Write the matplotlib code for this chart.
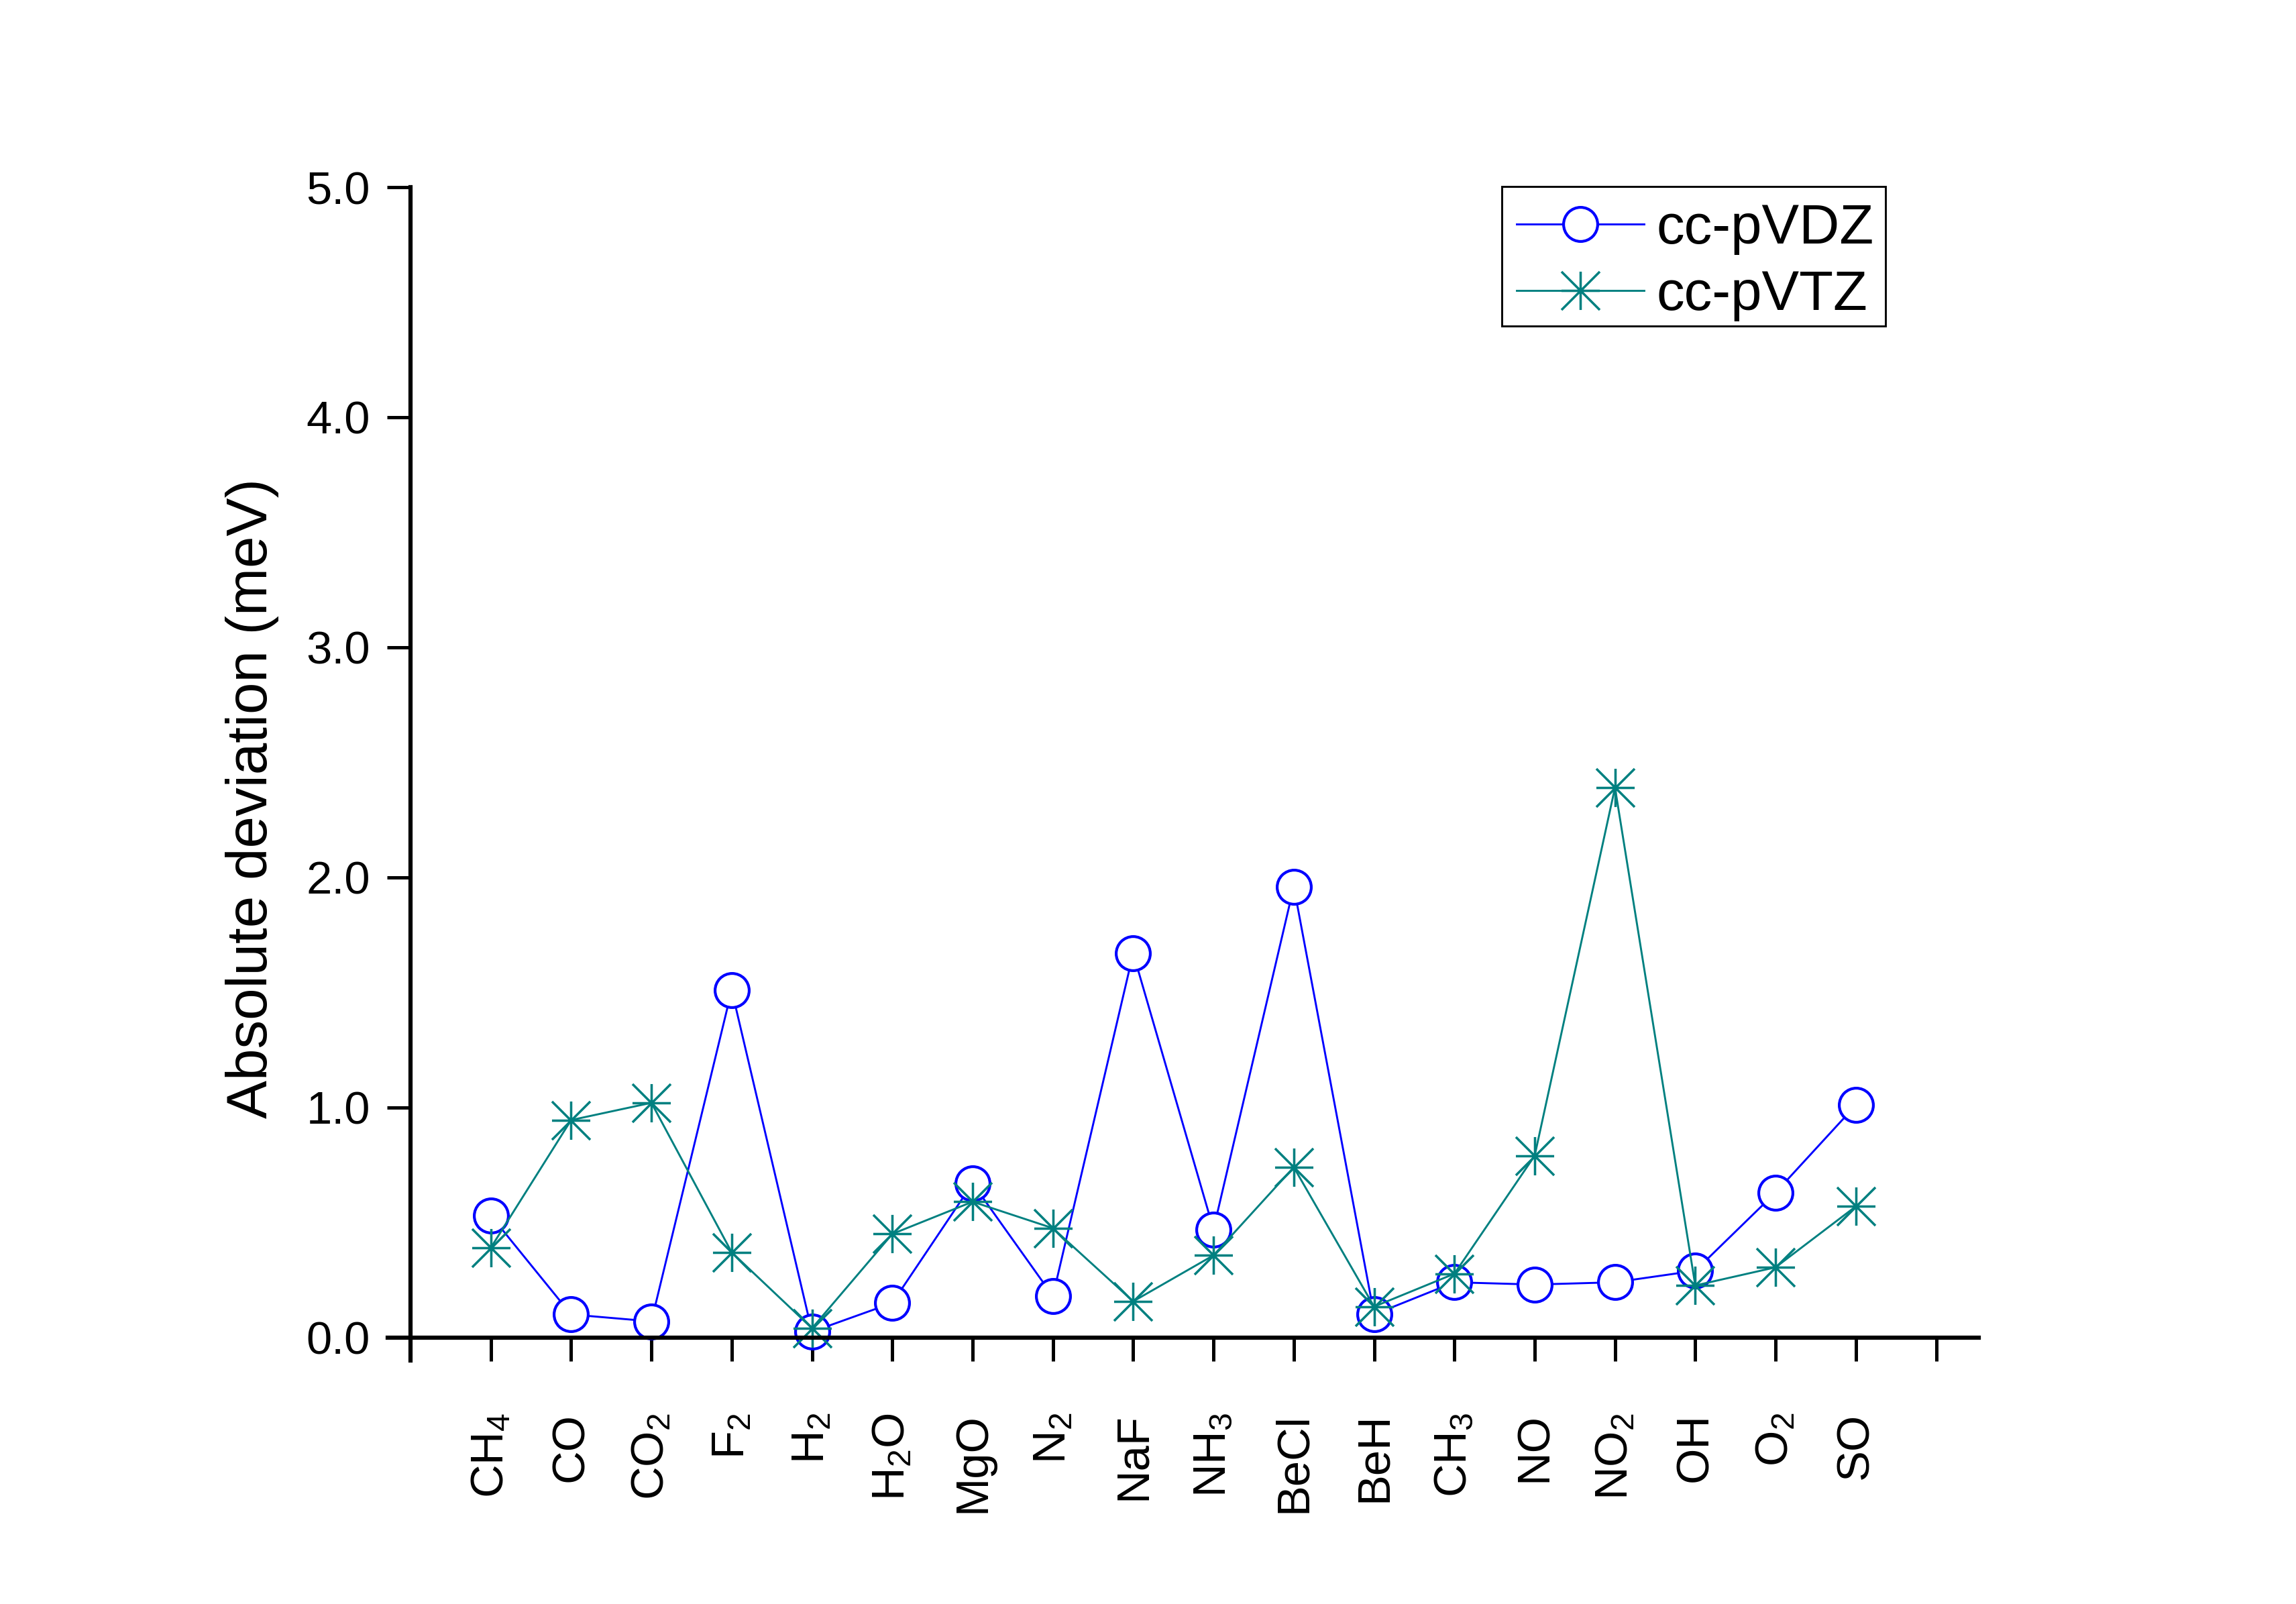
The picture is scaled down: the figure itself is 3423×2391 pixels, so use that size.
import matplotlib
matplotlib.use("Agg")
import matplotlib.pyplot as plt
from matplotlib.path import Path
from matplotlib.patches import Rectangle

plt.rcParams['font.family'] = ['Liberation Sans', 'DejaVu Sans']
plt.rcParams['mathtext.fontset'] = 'custom'
plt.rcParams['mathtext.rm'] = 'Liberation Sans'

molecules = ['CH$\\mathregular{_4}$', 'CO', 'CO$\\mathregular{_2}$', 'F$\\mathregular{_2}$',
             'H$\\mathregular{_2}$', 'H$\\mathregular{_2}$O', 'MgO', 'N$\\mathregular{_2}$',
             'NaF', 'NH$\\mathregular{_3}$', 'BeCl', 'BeH', 'CH$\\mathregular{_3}$', 'NO',
             'NO$\\mathregular{_2}$', 'OH', 'O$\\mathregular{_2}$', 'SO']
vdz = [0.53, 0.10, 0.07, 1.51, 0.025, 0.15, 0.67, 0.18, 1.67, 0.47,
       1.96, 0.10, 0.24, 0.23, 0.24, 0.29, 0.63, 1.01]
vtz = [0.39, 0.945, 1.02, 0.37, 0.04, 0.45, 0.59, 0.475, 0.157, 0.357,
       0.74, 0.134, 0.277, 0.79, 2.39, 0.226, 0.305, 0.57]
yticks = [0.0, 1.0, 2.0, 3.0, 4.0, 5.0]

W, H = 3423, 2391
fig = plt.figure(figsize=(W / 300, H / 300), dpi=300)
ax = fig.add_axes([578.5 / W, 1 - 2028 / H, (2950 - 578.5) / W, (2028 - 279) / H])

xs = list(range(1, len(molecules) + 1))

star = Path([(-1, 0), (1, 0), (0, -1), (0, 1), (-1, -1), (1, 1), (-1, 1), (1, -1)],
            [Path.MOVETO, Path.LINETO] * 4)

ax.plot(xs, vdz, color='#0000FF', lw=0.7, marker='o', ms=12.2, mew=1.0,
        mfc='white', mec='#0000FF', label='cc-pVDZ', zorder=2)
ax.plot(xs, vtz, color='#008080', lw=0.7, marker=star, ms=13.7, mew=0.85,
        mfc='none', mec='#008080', label='cc-pVTZ', zorder=2.1)

ax.set_xlim(-0.28, 19.53)
ax.set_ylim(-0.1, 5.0)
ax.spines['left'].set_position(('data', 0))
ax.spines['bottom'].set_position(('data', 0))
ax.spines['top'].set_visible(False)
ax.spines['right'].set_visible(False)
for s in ('left', 'bottom'):
    ax.spines[s].set_linewidth(1.5)

ax.set_xticks(range(0, 20))
ax.set_xticklabels([''] + molecules + [''], rotation=90, fontsize=16.5)
ax.set_yticks(yticks)
ax.set_yticklabels(['%.1f' % v for v in yticks], fontsize=16.5)
ax.tick_params(axis='x', direction='out', length=8.4, width=1.2, pad=18.5)
ax.tick_params(axis='y', direction='out', length=8.4, width=1.2, pad=6)

fig.text(376 / W, 1 - 1190 / H, 'Absolute deviation (meV)', rotation=90,
         ha='center', va='center', fontsize=20.5)

leg = ax.legend(loc='upper left', bbox_to_anchor=(2236 / W, 1 - 277 / H),
                bbox_transform=fig.transFigure, fontsize=20, numpoints=1,
                handlelength=2.28, handletextpad=0.22, labelspacing=0.25,
                borderpad=0.3, borderaxespad=0, frameon=False)

fig.add_artist(Rectangle((2239 / W, 1 - 486 / H), (2811 - 2239) / W, (486 - 278) / H,
                         transform=fig.transFigure, fill=False, edgecolor='black',
                         lw=0.7, zorder=5))

fig.savefig('out.png', dpi=300)
